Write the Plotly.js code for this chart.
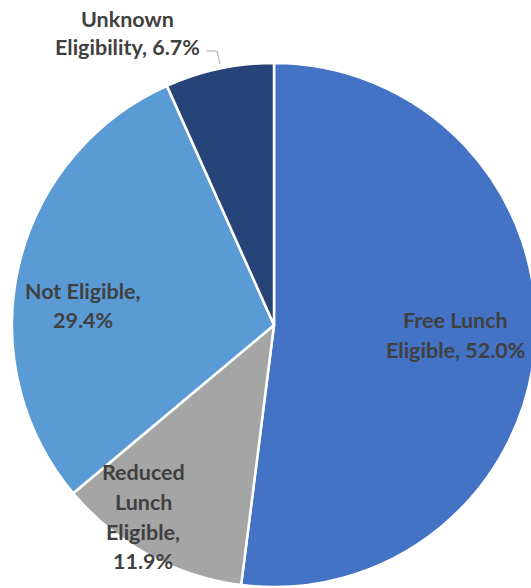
<!DOCTYPE html>
<html><head><meta charset="utf-8">
<script src="https://cdn.plot.ly/plotly-3.0.1.min.js"></script>
<style>html,body{margin:0;padding:0;overflow:hidden;background:#fff}#chart{width:548px;height:588px}</style>
</head><body><div id="chart"></div>
<script>
const categories = ["Free Lunch Eligible", "Reduced Lunch Eligible", "Not Eligible", "Unknown Eligibility"];
const shares = [52.0, 11.9, 29.4, 6.7];
const colors = ["#4472C4", "#A5A5A5", "#5B9BD5", "#264478"];
const pct = v => v.toFixed(1) + "%";
const labelLines = [
  ["Free Lunch", "Eligible, " + pct(shares[0])],
  ["Reduced", "Lunch", "Eligible,", pct(shares[1])],
  ["Not Eligible,", pct(shares[2])],
  ["Unknown", "Eligibility, " + pct(shares[3])]
];
// label line centers in pixels
const labelPos = [
  [[455, 320], [455, 350]],
  [[143, 472], [143, 502], [143, 532], [143, 561]],
  [[83, 291], [83, 320]],
  [[127, 19], [127, 47]]
];
const W = 548, H = 588;
const annotations = [];
labelLines.forEach((lines, i) => {
  lines.forEach((t, j) => {
    annotations.push({
      text: t, showarrow: false, xref: 'paper', yref: 'paper',
      x: labelPos[i][j][0] / W, y: 1 - labelPos[i][j][1] / H,
      xanchor: 'center', yanchor: 'middle',
      font: {family: 'Lato, "Open Sans", sans-serif', size: 21.5, color: '#404040', weight: 700}
    });
  });
});
const trace = {
  type: 'pie', labels: categories, values: shares, sort: false,
  direction: 'clockwise', rotation: 0,
  marker: {colors: colors, line: {color: '#FFFFFF', width: 2.5}},
  textinfo: 'none', hoverinfo: 'label+percent', showlegend: false,
  domain: {x: [12 / W, 536 / W], y: [0 / H, 526 / H]}
};
const layout = {
  width: W, height: H, margin: {l: 0, r: 0, t: 0, b: 0},
  paper_bgcolor: '#FFFFFF', showlegend: false,
  annotations: annotations,
  shapes: [{type: 'path', xref: 'paper', yref: 'paper',
    path: `M ${207/W} ${1-51/H} L ${217/W} ${1-51/H} L ${220/W} ${1-64/H}`,
    line: {color: '#A6A6A6', width: 1}}]
};
Plotly.newPlot('chart', [trace], layout, {displayModeBar: false, staticPlot: true});
</script></body></html>
